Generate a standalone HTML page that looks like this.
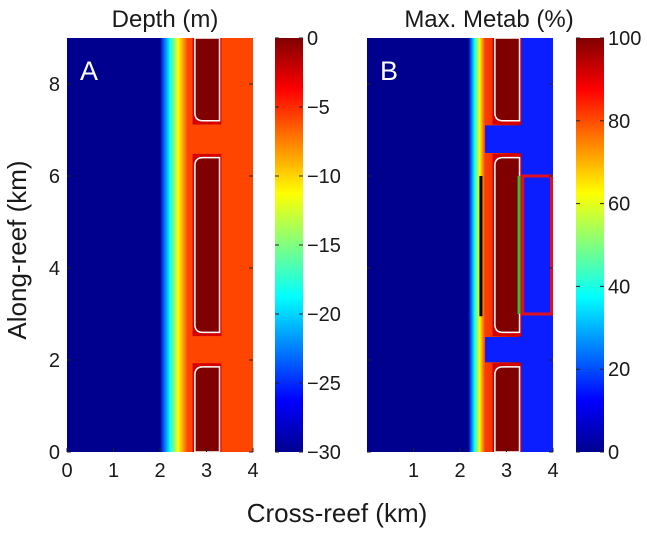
<!DOCTYPE html>
<html><head><meta charset="utf-8"><style>
html,body{margin:0;padding:0;background:#fff;width:647px;height:533px;overflow:hidden}
svg text{font-family:"Liberation Sans",Arial,sans-serif;fill:#1a1a1a}
</style></head><body>
<svg id="fig" width="647" height="533" viewBox="0 0 647 533" xmlns="http://www.w3.org/2000/svg">
<defs>
<linearGradient id="jetV" x1="0" y1="1" x2="0" y2="0">
<stop offset="0" stop-color="#00008f"/><stop offset="0.125" stop-color="#0000ff"/><stop offset="0.375" stop-color="#00ffff"/><stop offset="0.625" stop-color="#ffff00"/><stop offset="0.875" stop-color="#ff0000"/><stop offset="1" stop-color="#800000"/>
</linearGradient>
<linearGradient id="gradA" x1="0" y1="0" x2="1" y2="0">
<stop offset="0" stop-color="#00008f"/><stop offset="0.12" stop-color="#0050ff"/><stop offset="0.35" stop-color="#00ffff"/><stop offset="0.65" stop-color="#ffff00"/><stop offset="0.85" stop-color="#ff9000"/><stop offset="1" stop-color="#ff4500"/>
</linearGradient>
<linearGradient id="gradB" x1="0" y1="0" x2="1" y2="0">
<stop offset="0" stop-color="#00008f"/><stop offset="0.15" stop-color="#0060ff"/><stop offset="0.35" stop-color="#00ffff"/><stop offset="0.65" stop-color="#ffff00"/><stop offset="0.85" stop-color="#ff8000"/><stop offset="1" stop-color="#ff3000"/>
</linearGradient>
<linearGradient id="fringeB" x1="0" y1="0" x2="1" y2="0">
<stop offset="0" stop-color="#ff4000"/><stop offset="1" stop-color="#c00000"/>
</linearGradient>
</defs>
<g id="root"></g>
</svg>
<script>
const xTicksA=[0,1,2,3,4];
const xTicksB=[1,2,3,4];
const yTicks=[0,2,4,6,8];
const cbTicksA=[0,-5,-10,-15,-20,-25,-30];
const cbTicksB=[0,20,40,60,80,100];
const islands=[[0,1.85],[2.6,6.4],[7.2,9]];
const islandX=[2.75,3.28];
const blackLine=[2.45,2.95,6.0];
const greenLine=[3.27,3.0,6.0];
const redBox=[3.35,4.0,3.0,6.0];

const NS="http://www.w3.org/2000/svg";
const root=document.getElementById('root');
function el(tag,attrs,parent){const e=document.createElementNS(NS,tag);for(const k in attrs)e.setAttribute(k,attrs[k]);(parent||root).appendChild(e);return e;}
const Y0=452,Y1=38;
const ys=v=>Y0-(v/9)*(Y0-Y1);
function mkx(L){return v=>L+v*46.5;}

function panel(L,name,kind){
  const xs=mkx(L);
  const g=el('g',{});
  
  
  const W=186;
  el('rect',{x:L,y:Y1,width:W,height:Y0-Y1,fill:'#00008f'},g);
  if(kind==='A'){
    el('rect',{x:xs(2.0),y:Y1,width:xs(2.6)-xs(2.0),height:Y0-Y1,fill:'url(#gradA)'},g);
    el('rect',{x:xs(2.6)-0.5,y:Y1,width:xs(4)-xs(2.6)+0.5,height:Y0-Y1,fill:'#ff4500'},g);
  }else{
    el('rect',{x:xs(2.18),y:Y1,width:xs(2.55)-xs(2.18),height:Y0-Y1,fill:'url(#gradB)'},g);
    el('rect',{x:xs(2.55)-0.5,y:Y1,width:xs(4)-xs(2.55)+0.5,height:Y0-Y1,fill:'#0a1eff'},g);
    islands.forEach(r=>{
      const lo=Math.max(0,r[0]-0.1),hi=Math.min(9,r[1]+0.1);
      el('rect',{x:xs(2.55)-0.5,y:ys(hi),width:xs(3.3)-xs(2.55)+0.5,height:ys(lo)-ys(hi),fill:'url(#fringeB)'},g);
    });
  }
  islands.forEach(r=>{
    const lo=Math.max(0,r[0]-0.08),hi=Math.min(9,r[1]+0.08);
    el('rect',{x:xs(islandX[0]-0.05),y:ys(hi),width:xs(islandX[1]+0.04)-xs(islandX[0]-0.05),height:ys(lo)-ys(hi),fill:'#d40000'},g);
    const x0=xs(islandX[0]),x1=xs(islandX[1]),yt=ys(r[1]),yb=ys(r[0]),rr=8;
    const topR=r[1]<9,botR=r[0]>0;
    let d=`M${x1},${yt} L${x1},${yb}`;
    d+= botR?` L${x0+rr},${yb} Q${x0},${yb} ${x0},${yb-rr}`:` L${x0},${yb}`;
    d+= topR?` L${x0},${yt+rr} Q${x0},${yt} ${x0+rr},${yt} Z`:` L${x0},${yt} Z`;
    const p=el('path',{d:d,fill:'#800000',stroke:'#fff','stroke-width':1.5},g);
    
    
  });
  if(kind==='B'){
    const b=el('line',{x1:xs(blackLine[0]),x2:xs(blackLine[0]),y1:ys(blackLine[2]),y2:ys(blackLine[1]),stroke:'#000','stroke-width':3},g);
    
    
    const gr=el('line',{x1:xs(greenLine[0]),x2:xs(greenLine[0]),y1:ys(greenLine[2]),y2:ys(greenLine[1]),stroke:'#30c030','stroke-width':3},g);
    
    
    const rb=el('rect',{x:xs(redBox[0]),y:ys(redBox[3]),width:xs(redBox[1])-xs(redBox[0])-1.5,height:ys(redBox[2])-ys(redBox[3]),fill:'none',stroke:'#e01020','stroke-width':3},g);
    
    
  }
  const xt=kind==='A'?xTicksA:xTicksB;
  xt.forEach(v=>{
    el('line',{x1:xs(v),x2:xs(v),y1:Y0,y2:Y0-4,stroke:'#222'},g);
    const t=el('text',{x:xs(v),y:Y0+25,'font-size':20,'text-anchor':'middle'},g);t.textContent=v;
    
    
  });
  yTicks.forEach(v=>{
    el('line',{x1:L,x2:L+4,y1:ys(v),y2:ys(v),stroke:'#222'},g);
    el('line',{x1:L+W,x2:L+W-4,y1:ys(v),y2:ys(v),stroke:'#222'},g);
    if(kind==='A'){const t=el('text',{x:L-7,y:ys(v)+7,'font-size':20,'text-anchor':'end'},g);t.textContent=v;
      
      }
  });
  const lab=el('text',{x:L+13,y:80,'font-size':27,style:'fill:#fff'},g);lab.textContent=kind;
  
  
}
function colorbar(L,ticks,min,max,name,title,tx){
  const g=el('g',{});
  
  
  el('rect',{x:L,y:Y1,width:28,height:Y0-Y1,fill:'url(#jetV)'},g);
  ticks.forEach(v=>{
    const y=Y0-(v-min)/(max-min)*(Y0-Y1);
    el('line',{x1:L,x2:L+4,y1:y,y2:y,stroke:'#222'},g);
    el('line',{x1:L+28,x2:L+24,y1:y,y2:y,stroke:'#222'},g);
    const t=el('text',{x:L+32,y:y+7,'font-size':20},g);t.textContent=(v<0?'\u2212'+(-v):v);
    
    
  });
  const tt=el('text',{x:tx,y:27,'font-size':24,'text-anchor':'middle'});tt.textContent=title;
  
  
}
panel(67,'depth-panel','A');
panel(367,'metab-panel','B');
colorbar(275,cbTicksA,-30,0,'depth-colorbar','Depth (m)',165);
colorbar(576,cbTicksB,0,100,'metab-colorbar','Max. Metab (%)',489);
const xl=el('text',{x:337,y:522,'font-size':26,'text-anchor':'middle'});xl.textContent='Cross-reef (km)';


const yl=el('text',{x:0,y:0,'font-size':26,'text-anchor':'middle',transform:'translate(26,250) rotate(-90)'});yl.textContent='Along-reef (km)';


</script>
</body></html>
